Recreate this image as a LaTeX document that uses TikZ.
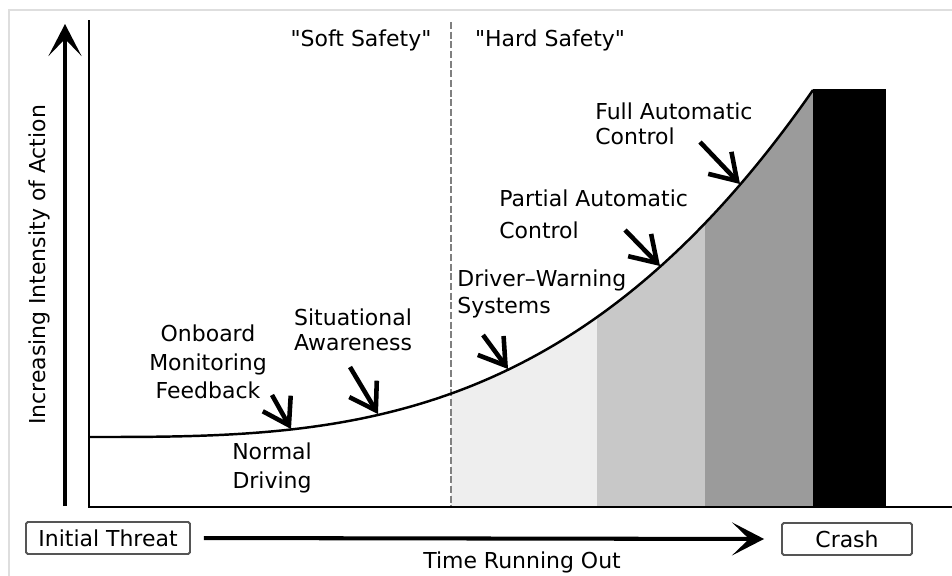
\documentclass[tikz,border=0pt]{standalone}
\usepackage{fontspec}
\setmainfont{DejaVu Sans}
\usetikzlibrary{arrows.meta}
\definecolor{zonea}{RGB}{238, 238, 238}
\definecolor{zoneb}{RGB}{200, 200, 200}
\definecolor{zonec}{RGB}{155, 155, 155}
\definecolor{lframe}{RGB}{222, 222, 222}
\definecolor{boxgray}{RGB}{85, 85, 85}
\newcommand{\curvey}[1]{437-347*((#1-89)/724)^3}

\begin{document}
\begin{tikzpicture}[x = 0.02cm, y = -0.02cm,
			lbl/.style = {font = \fontsize{12.5}{15.5}\selectfont, inner sep = 0pt, align = center},
			pointer/.style = {line width = 2.6pt, -{Straight Barb[length = 5mm, width = 6.4mm]}},
			bigarrow/.style = {line width = 2.3pt, -{Stealth[length = 6.4mm, width = 6.6mm, inset = 3.4mm]}},
			tagbox/.style = {lbl, draw = boxgray, line width = 1.1pt, rounded corners = 1pt, minimum height = 0.64cm}]
			\useasboundingbox (0,0) rectangle (952,575);
			\draw[lframe, line width = 0.6pt] (9,10) rectangle (990,600);
			% shaded zones under the curve
			\fill[zonea] (451,507) -- plot[domain = 451:597, samples = 30] (\x, {\curvey{\x}}) -- (597,507) -- cycle;
			\fill[zoneb] (597,507) -- plot[domain = 597:705, samples = 30] (\x, {\curvey{\x}}) -- (705,507) -- cycle;
			\fill[zonec] (705,507) -- plot[domain = 705:813, samples = 30] (\x, {\curvey{\x}}) -- (813,507) -- cycle;
			\fill[black] (813,89) rectangle (886,507);
			\draw[gray, line width = 1.1pt, dash pattern = on 4pt off 1.5pt] (451,22) -- (451,507);
			\draw[line width = 1.4pt] (89,20) -- (89,507) -- (990,507);
			\draw[line width = 1.4pt] (89,437) .. controls (330.33,437) and (571.67,437) .. (813,90);
			\draw[bigarrow] (65,506) -- (65,24);
			% labels
			\node (ylab) at (39,265) [lbl, rotate = 90] {Increasing Intensity of Action};
			\node (soft) at (361,40) [lbl] {\textquotedbl Soft Safety\textquotedbl};
			\node (hard) at (550,40) [lbl] {\textquotedbl Hard Safety\textquotedbl};
			\node (onboard) at (208,362) [lbl, font = \fontsize{12.5}{16.3}\selectfont] {Onboard\\Monitoring\\Feedback};
			\node (aware) at (353,330) [lbl, font = \fontsize{12.5}{14.3}\selectfont] {Situational\\Awareness};
			\node (normal) at (272,468) [lbl, font = \fontsize{12.5}{16.5}\selectfont] {Normal\\Driving};
			\node (driver) at (457,294) [lbl, anchor = west, align = left] {Driver--Warning\\Systems};
			\node (partial) at (499,214) [lbl, anchor = west, align = left, font = \fontsize{12.5}{18}\selectfont] {Partial Automatic\\Control};
			\node (full) at (595,124) [lbl, anchor = west, align = left, font = \fontsize{12.5}{14.5}\selectfont] {Full Automatic\\Control};
			\node (initial) at (108,538) [tagbox, minimum width = 3.28cm] {Initial Threat};
			\node (crash) at (847,539) [tagbox, minimum width = 2.6cm] {Crash};
			\node (time) at (522,562) [lbl] {Time Running Out};
			% arrows onto the curve
			\coordinate (onboard-s) at (272,395);
			\coordinate (onboard-t) at (291,429);
			\coordinate (aware-s) at (350,367);
			\coordinate (aware-t) at (378,414);
			\coordinate (driver-s) at (483,335);
			\coordinate (driver-t) at (508,369);
			\coordinate (partial-s) at (625,230);
			\coordinate (partial-t) at (660,266);
			\coordinate (full-s) at (700,142);
			\coordinate (full-t) at (740,184);
			\draw[pointer] (onboard-s) -- (onboard-t);
			\draw[pointer] (aware-s) -- (aware-t);
			\draw[pointer] (driver-s) -- (driver-t);
			\draw[pointer] (partial-s) -- (partial-t);
			\draw[pointer] (full-s) -- (full-t);
			\draw[bigarrow, shorten <= 0.26cm, shorten >= 0.34cm] (initial.east) -- (crash.west);
			\end{tikzpicture}
\end{document}
